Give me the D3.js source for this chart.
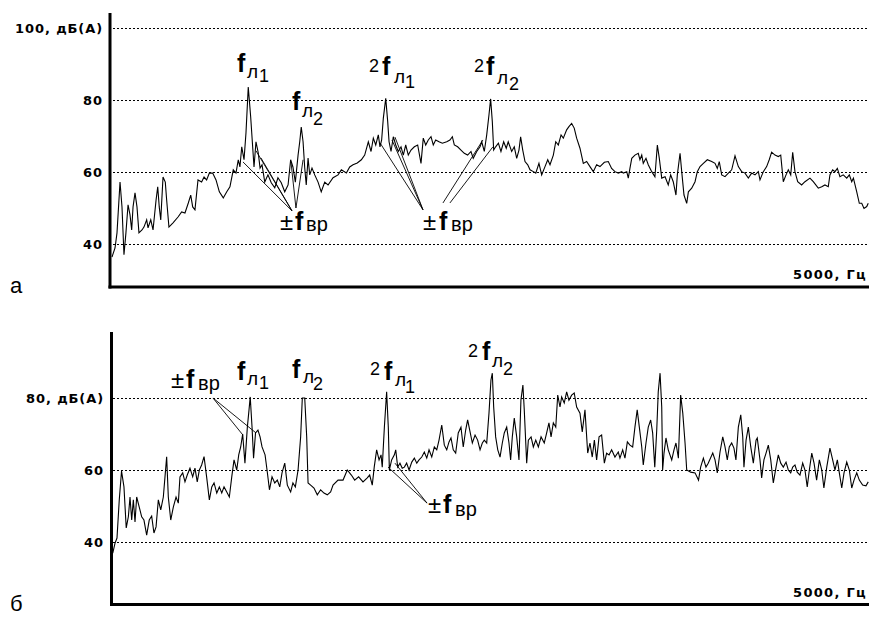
<!DOCTYPE html>
<html><head><meta charset="utf-8">
<script src="https://cdn.jsdelivr.net/npm/d3@7/dist/d3.min.js"></script>
<style>body{margin:0;background:#fff}svg{display:block}</style>
</head><body>
<script>
// ---- data: [frequency Hz, level dB(A)] ----
const spectrumA = [[0,36.4],[20,38.9],[33,43.1],[53,57.2],[66,50.3],[79,37.0],[92,43.1],[106,50.9],[119,48.1],[130,43.9],[139,50.3],[152,54.2],[165,50.3],[178,43.1],[198,43.9],[211,44.7],[229,46.7],[238,44.5],[256,46.7],[271,43.9],[291,52.2],[302,55.9],[312,50.3],[322,46.7],[337,58.6],[352,57.2],[361,52.2],[376,44.7],[403,45.9],[436,47.5],[460,48.9],[482,48.6],[504,51.4],[520,53.6],[533,50.3],[548,49.5],[568,57.8],[592,57.2],[608,58.6],[625,57.8],[643,59.7],[665,59.7],[687,57.8],[709,54.5],[735,52.8],[758,54.5],[779,55.9],[801,60.6],[819,59.7],[834,63.4],[845,61.4],[857,67.0],[872,63.4],[885,70.9],[900,83.6],[916,75.3],[929,67.0],[938,61.4],[951,68.4],[966,65.3],[978,61.1],[991,62.0],[1009,57.2],[1030,59.2],[1052,57.0],[1075,55.6],[1096,58.4],[1118,57.0],[1141,54.5],[1163,56.4],[1180,63.4],[1195,61.4],[1211,57.2],[1229,64.7],[1240,68.4],[1250,72.5],[1262,68.4],[1273,61.1],[1283,56.4],[1295,63.9],[1306,59.2],[1321,61.1],[1339,59.2],[1361,57.2],[1382,54.5],[1405,57.2],[1427,56.4],[1460,58.4],[1493,59.2],[1515,60.6],[1548,59.7],[1570,61.4],[1592,62.0],[1620,62.5],[1647,63.4],[1669,64.7],[1693,68.4],[1711,65.7],[1726,69.4],[1742,67.5],[1759,70.3],[1770,67.0],[1781,68.9],[1792,74.9],[1808,80.5],[1821,74.0],[1830,68.4],[1843,65.7],[1858,69.8],[1874,67.5],[1891,65.7],[1909,67.0],[1924,64.7],[1940,67.5],[1957,64.7],[1975,66.1],[1997,67.0],[2019,67.5],[2041,62.4],[2056,69.4],[2072,67.5],[2089,68.9],[2107,69.8],[2122,67.5],[2138,68.9],[2160,68.4],[2182,68.0],[2211,68.4],[2232,68.9],[2248,69.8],[2261,67.5],[2283,67.0],[2305,66.1],[2327,65.2],[2349,64.7],[2371,65.7],[2386,63.8],[2409,65.7],[2431,67.0],[2442,68.4],[2459,65.7],[2475,70.3],[2490,75.9],[2501,80.3],[2512,74.0],[2521,66.1],[2534,67.0],[2552,68.0],[2569,65.7],[2587,68.4],[2604,66.6],[2617,68.4],[2640,65.7],[2657,67.0],[2673,63.8],[2688,66.1],[2699,69.8],[2713,66.1],[2728,62.9],[2746,62.0],[2761,60.6],[2783,60.1],[2799,59.7],[2820,62.4],[2838,59.2],[2860,61.5],[2878,63.4],[2893,62.0],[2915,64.7],[2931,68.4],[2948,67.5],[2966,70.3],[2981,69.4],[3003,71.7],[3018,72.6],[3036,73.5],[3053,72.2],[3069,69.4],[3091,66.6],[3113,62.4],[3135,62.9],[3157,61.5],[3179,60.1],[3201,62.0],[3223,61.5],[3252,62.7],[3278,62.9],[3300,61.0],[3322,60.1],[3344,59.7],[3367,60.1],[3377,59.7],[3400,60.1],[3410,58.3],[3421,61.0],[3433,63.8],[3454,64.7],[3476,65.2],[3487,63.4],[3499,64.7],[3509,62.4],[3527,63.8],[3542,62.0],[3565,60.1],[3586,58.7],[3602,67.5],[3615,63.8],[3631,58.3],[3653,58.7],[3674,56.4],[3690,59.2],[3707,57.3],[3725,53.6],[3734,59.2],[3752,65.2],[3763,60.1],[3778,53.6],[3796,51.3],[3807,54.5],[3829,55.5],[3851,57.3],[3866,60.1],[3884,61.5],[3906,62.4],[3932,63.4],[3961,62.9],[3983,62.4],[3998,61.0],[4011,62.9],[4027,59.2],[4049,58.7],[4071,59.7],[4093,60.6],[4115,64.5],[4137,61.5],[4159,60.1],[4181,59.7],[4203,58.3],[4225,59.7],[4247,59.2],[4269,60.1],[4280,57.8],[4302,60.1],[4324,61.5],[4341,63.4],[4357,65.5],[4379,64.7],[4401,64.3],[4417,64.7],[4434,57.3],[4452,59.2],[4467,60.6],[4483,59.2],[4496,65.5],[4511,60.1],[4529,57.3],[4555,56.4],[4577,57.3],[4610,58.3],[4632,57.3],[4665,55.5],[4688,55.9],[4709,56.4],[4731,55.9],[4742,59.2],[4760,60.6],[4775,60.1],[4791,61.0],[4808,58.7],[4830,59.2],[4853,58.3],[4870,59.2],[4886,57.3],[4897,58.3],[4919,54.5],[4936,51.3],[4952,51.3],[4967,49.9],[4985,50.4],[4995,51.3]];

const spectrumB = [[5,36.9],[20,39.7],[33,41.1],[48,51.7],[63,59.7],[79,55.3],[94,43.9],[108,47.0],[119,52.5],[130,46.1],[141,51.7],[152,45.6],[163,52.5],[180,49.7],[196,47.0],[211,46.1],[229,41.9],[246,46.1],[262,47.2],[277,42.5],[291,44.2],[306,51.7],[322,48.9],[339,52.5],[350,58.1],[361,63.7],[372,52.5],[388,46.1],[405,49.7],[423,52.5],[438,50.8],[449,58.1],[467,59.2],[482,56.7],[497,58.6],[515,60.5],[533,58.1],[548,60.5],[563,56.7],[577,60.0],[592,61.4],[608,63.7],[625,58.1],[643,51.7],[659,55.3],[674,56.4],[692,53.6],[709,55.3],[725,53.6],[740,55.3],[758,53.9],[775,52.5],[791,58.1],[806,62.8],[824,60.0],[837,64.2],[850,66.4],[863,70.0],[878,61.9],[894,71.9],[905,76.7],[913,80.3],[925,71.9],[935,63.3],[948,70.3],[964,71.1],[978,69.2],[991,66.4],[1011,64.2],[1024,60.0],[1040,54.5],[1057,58.1],[1075,56.4],[1092,57.2],[1108,55.3],[1123,59.2],[1141,61.9],[1158,55.8],[1180,53.9],[1195,56.4],[1211,55.3],[1229,60.0],[1246,69.2],[1257,80.0],[1273,80.0],[1286,69.2],[1295,56.4],[1312,55.8],[1334,55.0],[1356,53.1],[1378,54.5],[1400,53.6],[1422,53.1],[1444,53.9],[1460,55.8],[1493,57.2],[1526,57.2],[1554,60.0],[1581,58.6],[1603,57.2],[1629,58.1],[1658,56.7],[1686,57.8],[1702,58.6],[1719,55.8],[1732,60.8],[1748,65.6],[1764,62.8],[1777,64.2],[1785,60.8],[1799,71.9],[1814,81.7],[1825,71.9],[1832,60.0],[1847,62.8],[1865,64.2],[1874,65.6],[1887,60.8],[1902,61.9],[1917,60.5],[1931,60.8],[1946,61.9],[1962,60.0],[1980,62.2],[1997,63.3],[2013,61.9],[2028,62.8],[2046,63.6],[2063,65.0],[2079,63.3],[2094,65.6],[2112,63.6],[2129,66.4],[2145,65.6],[2160,68.3],[2178,72.5],[2195,66.9],[2211,65.6],[2226,67.8],[2239,68.9],[2254,65.6],[2270,64.7],[2287,70.3],[2305,71.9],[2320,66.4],[2336,71.1],[2349,73.9],[2365,70.6],[2380,67.5],[2398,69.7],[2415,68.3],[2431,65.6],[2446,67.5],[2459,68.3],[2475,67.5],[2490,75.8],[2503,85.0],[2512,86.9],[2521,77.5],[2534,69.2],[2548,65.6],[2563,63.6],[2578,67.5],[2591,70.3],[2607,71.9],[2622,67.5],[2633,62.8],[2644,69.2],[2657,74.4],[2673,69.2],[2688,62.8],[2701,79.4],[2714,83.6],[2723,76.7],[2739,61.9],[2750,68.3],[2768,69.2],[2783,66.4],[2799,68.3],[2816,66.4],[2834,69.2],[2855,67.5],[2871,70.3],[2886,73.1],[2900,69.2],[2915,73.1],[2931,71.9],[2944,80.8],[2959,77.5],[2970,80.3],[2987,78.6],[3003,81.7],[3018,79.4],[3036,80.8],[3053,81.4],[3069,77.5],[3091,75.8],[3106,70.6],[3124,76.7],[3142,64.7],[3157,67.5],[3172,63.6],[3186,68.3],[3201,62.8],[3217,69.2],[3234,69.7],[3252,61.9],[3267,64.7],[3283,64.2],[3300,65.6],[3322,63.6],[3344,65.0],[3355,63.3],[3373,65.6],[3388,63.3],[3404,67.8],[3421,66.9],[3439,66.4],[3454,71.9],[3469,76.7],[3483,71.9],[3499,66.4],[3509,61.4],[3527,67.5],[3542,71.9],[3558,73.9],[3571,70.3],[3585,60.8],[3598,71.1],[3608,81.7],[3620,86.9],[3631,77.5],[3637,60.0],[3646,64.7],[3659,68.9],[3674,65.6],[3697,62.8],[3712,65.6],[3725,67.5],[3741,63.3],[3756,80.8],[3770,75.8],[3785,67.5],[3796,60.0],[3822,59.4],[3851,59.2],[3874,57.2],[3888,60.8],[3906,63.3],[3923,60.8],[3938,61.9],[3968,64.7],[3983,62.8],[3998,59.2],[4016,65.0],[4034,69.2],[4049,66.4],[4064,62.8],[4077,66.4],[4093,67.5],[4108,66.1],[4121,62.8],[4137,71.9],[4153,75.3],[4166,69.2],[4174,60.8],[4188,68.3],[4203,71.9],[4219,66.4],[4236,61.9],[4254,68.3],[4262,68.9],[4280,62.8],[4291,57.8],[4306,62.8],[4320,64.7],[4335,66.9],[4351,62.8],[4368,56.4],[4386,60.8],[4401,64.2],[4417,61.9],[4434,60.8],[4452,62.2],[4467,60.0],[4483,59.2],[4496,60.8],[4511,61.4],[4526,59.4],[4544,58.6],[4562,61.9],[4577,60.0],[4592,55.3],[4606,60.0],[4622,64.7],[4637,61.9],[4654,57.2],[4672,62.8],[4688,60.0],[4702,55.0],[4721,60.8],[4742,66.1],[4760,62.8],[4775,60.0],[4791,62.8],[4804,59.2],[4820,55.0],[4835,59.2],[4853,62.2],[4870,60.0],[4886,55.0],[4901,57.2],[4919,59.2],[4936,57.2],[4958,55.8],[4980,55.6],[4995,56.7]];

const ticksA = [100, 80, 60, 40];
const tickLabelsA = ["100, дБ(А)", "80", "60", "40"];
const ticksB = [80, 60, 40];
const tickLabelsB = ["80, дБ(А)", "60", "40"];
const xMaxLabel = "5000, Гц";
const panelLetters = ["а", "б"];

// pointer lines in data units: [[Hz,dB],[Hz,dB]]
const pointersA = [
  [[1189,49.2],[865,62.8]], [[1189,49.2],[951,65.9]], [[1189,49.2],[984,63.9]],
  [[1215,50.0],[1182,62.8]], [[1215,50.0],[1262,63.4]],
  [[2054,49.5],[1770,68.1]], [[2054,49.5],[1849,68.9]], [[2054,49.5],[1869,69.7]],
  [[2186,51.4],[2450,68.9]], [[2232,51.4],[2516,67.0]]
];
const pointersB = [
  [[667,80.0],[865,69.7]], [[667,80.0],[951,70.3]],
  [[2081,50.8],[1823,60.8]], [[2081,50.8],[1869,61.9]]
];

// ---- layout ----
const W = 869, H = 617;
const svg = d3.select("body").append("svg").attr("width", W).attr("height", H)
  .style("font-family", "'Liberation Sans', Arial, sans-serif");

const x = d3.scaleLinear().domain([0, 5000]).range([112, 869]);
const yA = d3.scaleLinear().domain([40, 100]).range([244, 28]);
const yB = d3.scaleLinear().domain([40, 80]).range([542, 398]);

function panel(y, data, ticks, tickLabels, pointers, opt) {
  const g = svg.append("g");
  g.selectAll("line.grid").data(ticks).join("line")
    .attr("x1", 113).attr("x2", W).attr("y1", d => Math.round(y(d)) + 0.5).attr("y2", d => Math.round(y(d)) + 0.5)
    .attr("stroke", "#000").attr("stroke-width", 1).attr("stroke-dasharray", "2,2")
    .attr("shape-rendering", "crispEdges");
  g.selectAll("text.tl").data(ticks).join("text")
    .attr("x", opt.labelX).attr("y", d => y(d) + 5)
    .attr("text-anchor", "end")
    .style("font-family", "'DejaVu Sans', Verdana, sans-serif")
    .style("font-weight", "bold").style("font-size", "13px").style("letter-spacing", "0.9px")
    .text((d, i) => tickLabels[i]);
  g.append("text").attr("x", 867).attr("y", opt.xLabelY).attr("text-anchor", "end")
    .style("font-family", "'DejaVu Sans', Verdana, sans-serif")
    .style("font-weight", "bold").style("font-size", "13px").style("letter-spacing", "1.3px")
    .text(xMaxLabel);
  g.selectAll("line.ptr").data(pointers).join("line")
    .attr("x1", d => x(d[0][0])).attr("y1", d => y(d[0][1]))
    .attr("x2", d => x(d[1][0])).attr("y2", d => y(d[1][1]))
    .attr("stroke", "#000").attr("stroke-width", 0.9);
  g.append("path").datum(data)
    .attr("d", d3.line().x(d => x(d[0])).y(d => y(d[1])))
    .attr("fill", "none").attr("stroke", "#000").attr("stroke-width", 1.1)
    .attr("stroke-linejoin", "miter");
  g.append("rect").attr("x", opt.axX).attr("y", opt.axTop).attr("width", 3).attr("height", opt.axBot - opt.axTop)
    .attr("fill", "#000");
  g.append("rect").attr("x", opt.axX).attr("y", opt.axBot - 3).attr("width", W - opt.axX).attr("height", 3)
    .attr("fill", "#000");
  g.append("text").attr("x", 10).attr("y", opt.letterY).style("font-size", "22px").text(opt.letter);
}

panel(yA, spectrumA, ticksA, tickLabelsA, pointersA,
  {labelX: 103, xLabelY: 279, axX: 108.5, axTop: 13, axBot: 288.5, letterY: 293, letter: panelLetters[0]});
panel(yB, spectrumB, ticksB, tickLabelsB, pointersB,
  {labelX: 104, xLabelY: 597, axX: 110, axTop: 332, axBot: 606, letterY: 611, letter: panelLetters[1]});

// annotation labels (text pieces: text, x, baseline, size, bold)
const annotations = [
  [["f",237,72,25,1],["л",247,78,19],["1",259,82,18]],
  [["f",292,110,25,1],["л",302,117,19],["2",313,125,18]],
  [["2",369,72,18],["f",382,75,25,1],["л",394,83,19],["1",405,88,18]],
  [["2",474,72,18],["f",486,75,25,1],["л",497,84,19],["2",509,90,18]],
  [["±",280,230,24],["f",295,230,25,1],["вр",306,231,20]],
  [["±",423,230,24],["f",439,230,25,1],["вр",451,231,20]],
  [["f",237,380,25,1],["л",247,385,19],["1",259,389,18]],
  [["f",292,378,25,1],["л",303,383,19],["2",313,390,18]],
  [["2",370,375,18],["f",384,380,25,1],["л",395,386,19],["1",405,393,18]],
  [["2",468,357,18],["f",482,360,25,1],["л",492,367,19],["2",503,375,18]],
  [["±",171,388,24],["f",186,388,25,1],["вр",198,390,20]],
  [["±",428,513,24],["f",443,513,25,1],["вр",455,516,20]]
];
annotations.forEach(a => {
  svg.append("g").selectAll("text").data(a).join("text")
    .attr("x", d => d[1]).attr("y", d => d[2])
    .style("font-size", d => d[3] + "px")
    .style("font-weight", d => d[4] ? "bold" : "normal")
    .text(d => d[0]);
});
</script>
</body></html>
